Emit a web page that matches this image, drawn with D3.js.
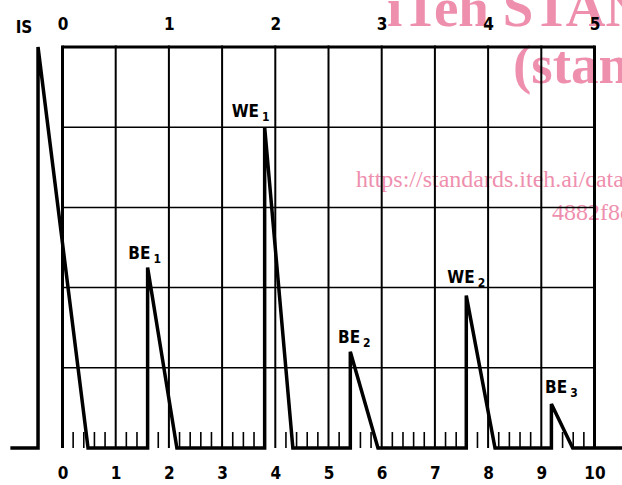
<!DOCTYPE html>
<html>
<head>
<meta charset="utf-8">
<script src="https://cdn.jsdelivr.net/npm/d3@7"></script>
<style>
  body { margin: 0; background: #fff; }
  svg { display: block; }
  .lbl { font-family: "DejaVu Sans Condensed", "DejaVu Sans", sans-serif; font-weight: bold; }
  .wm { font-family: "Liberation Serif", "DejaVu Serif", serif; fill: #ef8fae; }
</style>
</head>
<body>
<script>
// echo names with their index, as written on the trace
var echoNames = ["IS", "BE", "WE", "BE", "WE", "BE"];
var echoIndex = ["", "1", "1", "2", "2", "3"];
// where each echo rises (in screen divisions), its height (% of screen) and where it falls back
var echoStart = [-0.46, 1.60, 3.80, 5.41, 7.59, 9.19];
var echoPeak = [100, 45, 80, 24, 38, 11];
var echoEnd = [0.48, 2.15, 4.33, 5.93, 8.13, 9.59];
// trace runs a bit past the screen on both sides
var traceFrom = -0.98;
var traceTo = 10.6;

// tick labels
var bottomTicks = [0, 1, 2, 3, 4, 5, 6, 7, 8, 9, 10];
var topTicks = [0, 1, 2, 3, 4, 5];
var levelTicks = [0, 20, 40, 60, 80, 100];

// label nudges in pixels (layout only)
var labelDx = [-14, -3, -14, 4, 0, 10];
var labelDy = [-14, -9, -10, -9, -13, -11];

var width = 622, height = 485;

var svg = d3.select("body").append("svg")
    .attr("width", width)
    .attr("height", height);

// scales
var x = d3.scaleLinear().domain([0, 10]).range([62.5, 594.5]);
var xTop = d3.scaleLinear().domain([0, 5]).range([62.5, 594.5]);
var y = d3.scaleLinear().domain([0, 100]).range([448, 47]);

// watermark from the source document
var wm = svg.append("g");
wm.append("text").attr("class", "wm").attr("x", 387).attr("y", 26)
  .style("font-size", "55px").style("font-weight", "bold").text("iTeh STANDARD PREVIEW");
wm.append("text").attr("class", "wm").attr("x", 513).attr("y", 83)
  .style("font-size", "55px").style("font-weight", "bold").text("(standards.iteh.ai)");
wm.append("text").attr("class", "wm").attr("x", 356).attr("y", 187)
  .style("font-size", "24px").text("https://standards.iteh.ai/catalog/standards");
wm.append("text").attr("class", "wm").attr("x", 552).attr("y", 220)
  .style("font-size", "24px").text("4882f8c0");

// horizontal grid lines
svg.selectAll("line.hgrid")
   .data(levelTicks.slice(1))
   .enter()
   .append("line")
   .attr("x1", x(0)).attr("x2", x(10))
   .attr("y1", function(d){ return y(d); })
   .attr("y2", function(d){ return y(d); })
   .attr("stroke", "#000")
   .attr("stroke-width", function(d){ return d == 100 ? 3 : 1.5; });

// vertical grid lines
svg.selectAll("line.vgrid")
   .data(bottomTicks)
   .enter()
   .append("line")
   .attr("x1", function(d){ return x(d); })
   .attr("x2", function(d){ return x(d); })
   .attr("y1", y(100) - 1.5).attr("y2", y(0))
   .attr("stroke", "#000")
   .attr("stroke-width", function(d){ return (d == 0 || d == 10) ? 3 : 2; });

// small ticks every fifth of a division
var minor = d3.range(1, 50).filter(function(i){ return i % 5 != 0; })
              .map(function(i){ return i / 5; });
svg.selectAll("line.minor")
   .data(minor)
   .enter()
   .append("line")
   .attr("x1", function(d){ return x(d); })
   .attr("x2", function(d){ return x(d); })
   .attr("y1", y(0) - 16).attr("y2", y(0))
   .attr("stroke", "#000")
   .attr("stroke-width", 1.6);

// the trace: baseline with a sawtooth echo for each signal
var pts = [[traceFrom, 0]];
for (var i = 0; i < echoStart.length; i++) {
    pts.push([echoStart[i], 0]);
    pts.push([echoStart[i], echoPeak[i]]);
    pts.push([echoEnd[i], 0]);
}
pts.push([traceTo, 0]);

var line = d3.line()
    .x(function(d){ return x(d[0]); })
    .y(function(d){ return y(d[1]); });

svg.append("path")
   .attr("d", line(pts))
   .attr("fill", "none")
   .attr("stroke", "#000")
   .attr("stroke-width", 3.5)
   .attr("stroke-linejoin", "miter")
   .attr("stroke-miterlimit", 3);

// echo labels
for (var i = 0; i < echoNames.length; i++) {
    var t = svg.append("text")
       .attr("class", "lbl")
       .attr("x", x(echoStart[i]) + labelDx[i])
       .attr("y", y(echoPeak[i]) + labelDy[i])
       .attr("text-anchor", "middle")
       .style("font-size", "17px");
    t.append("tspan").text(echoNames[i]);
    if (echoIndex[i]) {
        t.append("tspan")
         .attr("dx", 3).attr("dy", 4)
         .style("font-size", "12px")
         .text(echoIndex[i]);
    }
}

// bottom scale labels
var bottomAxis = d3.axisBottom(x).tickValues(bottomTicks).tickSize(0).tickPadding(19)
    .tickFormat(d3.format("d"));
var gb = svg.append("g").attr("transform", "translate(0," + y(0) + ")").call(bottomAxis);
gb.select(".domain").remove();
gb.selectAll("text").attr("class", "lbl").style("font-size", "17px").attr("fill", "#000");

// top scale labels
var topAxis = d3.axisTop(xTop).tickValues(topTicks).tickSize(0).tickPadding(17)
    .tickFormat(d3.format("d"));
var gt = svg.append("g").attr("transform", "translate(0," + y(100) + ")").call(topAxis);
gt.select(".domain").remove();
gt.selectAll("text").attr("class", "lbl").style("font-size", "17px").attr("fill", "#000");
</script>
</body>
</html>
